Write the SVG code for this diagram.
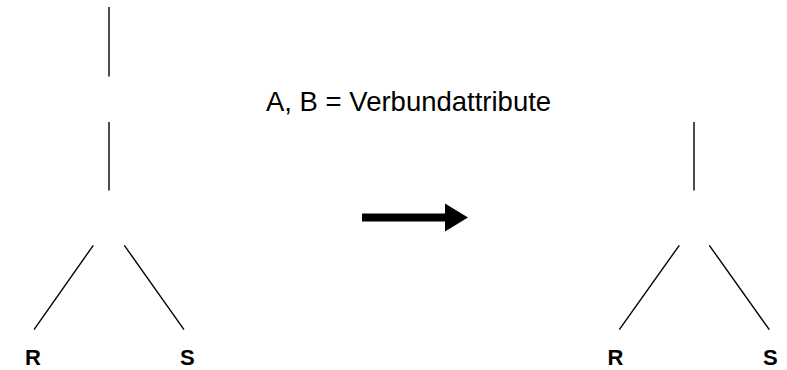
<svg xmlns="http://www.w3.org/2000/svg" width="787" height="370" viewBox="0 0 787 370">
<style>
.e{stroke:#000;stroke-width:1.4;fill:none}
.leaf{font-family:"Liberation Sans",Arial,sans-serif;font-weight:bold;font-size:22px;fill:#000}
.lbl{font-family:"Liberation Sans",Arial,sans-serif;font-size:27.5px;fill:#000}
</style>
<rect width="787" height="370" fill="#fff"/>
<g id="connectors">
<line class="e" x1="109" y1="7" x2="109" y2="76.5"/>
<line class="e" x1="109" y1="122" x2="109" y2="190.5"/>
<line class="e" x1="93.3" y1="245.3" x2="34" y2="329.7"/>
<line class="e" x1="124.3" y1="245.3" x2="184" y2="329.7"/>
<line class="e" x1="694" y1="122" x2="694" y2="190.5"/>
<line class="e" x1="679.3" y1="245.3" x2="619.3" y2="329.7"/>
<line class="e" x1="709.3" y1="245.3" x2="769.3" y2="329.7"/>
<g id="transform-arrow">
<rect x="362" y="213.5" width="84" height="8" fill="#000"/>
<polygon points="445,203.5 468,217.5 445,231.5" fill="#000"/>
</g>
</g>
<g id="left-R"><text class="leaf" x="25" y="365">R</text></g>
<g id="left-S"><text class="leaf" x="180" y="365">S</text></g>
<g id="right-R"><text class="leaf" x="607.5" y="365">R</text></g>
<g id="right-S"><text class="leaf" x="763" y="365">S</text></g>
<g id="label"><text class="lbl" x="266" y="111">A, B = Verbundattribute</text></g>
</svg>
